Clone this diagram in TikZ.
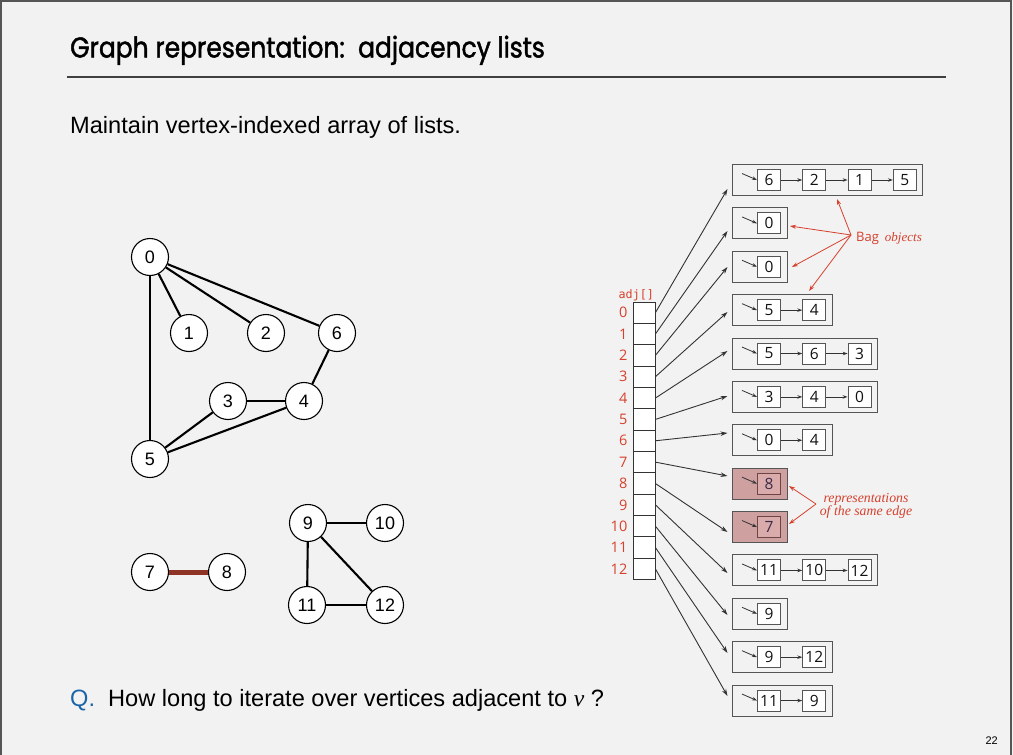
\documentclass[tikz,border=0pt]{standalone}
\usepackage{fontspec}
\setmainfont{Liberation Sans}
\newfontfamily\titlefont[FakeStretch=0.87,FakeBold=1.6]{Poppins}
\newfontfamily\lucfont{Open Sans}
\newfontfamily\monofont{DejaVu Sans Mono}
\newfontfamily\seriffont{Liberation Serif}
\usetikzlibrary{arrows.meta}
\definecolor{bgc}{HTML}{F2F2F2}
\definecolor{framec}{HTML}{555555}
\definecolor{redc}{HTML}{D6402D}
\definecolor{arrc}{HTML}{333333}
\definecolor{boxd}{HTML}{555555}
\definecolor{txtc}{HTML}{111111}
\definecolor{shA}{HTML}{CFA0A0}
\definecolor{shB}{HTML}{D9ABAB}
\definecolor{shD}{HTML}{6E4444}
\definecolor{shT}{HTML}{3A2A4A}
\definecolor{edge78}{HTML}{8E3426}
\definecolor{qblue}{HTML}{1A64A8}
\begin{document}
\begin{tikzpicture}[x=1pt,y=-1pt,
  gv/.style={circle,draw=black,line width=1.1pt,fill=white,minimum size=37pt,inner sep=0pt,font=\fontsize{18}{20}\selectfont},
  ge/.style={line width=2.1pt,black},
  cell/.style={draw=black!80,fill=white,line width=0.8pt,minimum width=22pt,minimum height=21.35pt,inner sep=0pt},
  idx/.style={text=redc,font=\lucfont\fontsize{14.5}{16}\selectfont,anchor=east,inner sep=0pt},
  ptr/.style={draw=arrc,line width=0.9pt,-{Stealth[length=7pt,width=4.5pt]}},
  link/.style={draw=arrc,line width=0.8pt,-{Stealth[length=5pt,width=3.5pt]}},
  bagbox/.style={draw=boxd,line width=1pt,minimum height=31pt,inner sep=0pt,anchor=west},
  sq/.style={line width=1pt,minimum width=23pt,minimum height=21pt,inner sep=0pt,anchor=west,font=\lucfont\fontsize{15.5}{17}\selectfont},
  ann/.style={draw=redc,line width=0.8pt,-{Stealth[length=6pt,width=4pt]}},
]
\useasboundingbox (0,0) rectangle (1013,755);
\fill[bgc] (0,0) rectangle (1013,755);
\draw[framec,line width=1.5pt] (1,760) -- (1,1) -- (1011,1) -- (1011,760);

% title
\node[anchor=base west,inner sep=0pt,font=\titlefont\fontsize{28.7}{32}\selectfont] (title) at (70,57.5) {Graph representation:\ \ adjacency lists};
\coordinate (rl) at (67,77);
\coordinate (rr) at (946,77);
\draw[line width=1.2pt,black!75] (rl) -- (rr);

\node[anchor=base west,inner sep=0pt,font=\fontsize{23.6}{28}\selectfont] (sub) at (70,133) {Maintain vertex-indexed array of lists.};

% graph
\node[gv] (n0) at (150,257) {0};
\node[gv] (n1) at (189,333) {1};
\node[gv] (n2) at (266,333) {2};
\node[gv] (n6) at (337,333) {6};
\node[gv] (n3) at (228,401) {3};
\node[gv] (n4) at (304,401) {4};
\node[gv] (n5) at (150,459) {5};
\node[gv] (n7) at (150,572) {7};
\node[gv] (n8) at (227,572) {8};
\node[gv] (n9) at (308,523) {9};
\node[gv] (n10) at (385,523) {10};
\node[gv] (n11) at (307,605) {11};
\node[gv] (n12) at (385,605) {12};
\foreach \a/\b in {0/1,0/2,0/6,0/5,6/4,3/4,3/5,4/5,9/10,9/11,9/12,11/12}
  \draw[ge] (n\a) -- (n\b);
\draw[line width=5pt,edge78] (n7) -- (n8);

% adj array
\node[anchor=base west,inner sep=0pt,text=redc,font=\monofont\fontsize{11.7}{14}\selectfont] (adj) at (618.5,298) {adj[]};
\foreach \i/\ty in {0/189,1/231,2/267,3/312,4/351,5/396,6/433,7/476,8/532,9/573,10/615,11/653,12/696} {
  \node[cell] (c\i) at (644,{302+21.35*(\i+0.5)}) {};
  \node[idx] (l\i) at (627.5,{302+21.35*(\i+0.5)}) {\i};
  \coordinate (t\i) at (727.5,\ty);
  \draw[ptr] (c\i.east) -- (t\i);
}

% bag lists
\foreach \r/\n/\bfc/\sfc/\sdc/\tcc/\vals in {
  0/4/bgc/white/boxd/txtc/{6,2,1,5},
  1/1/bgc/white/boxd/txtc/{0},
  2/1/bgc/white/boxd/txtc/{0},
  3/2/bgc/white/boxd/txtc/{5,4},
  4/3/bgc/white/boxd/txtc/{5,6,3},
  5/3/bgc/white/boxd/txtc/{3,4,0},
  6/2/bgc/white/boxd/txtc/{0,4},
  7/1/shA/shB/shD/shT/{8},
  8/1/shA/shB/shD/shT/{7},
  9/3/bgc/white/boxd/txtc/{11,10,12},
  10/1/bgc/white/boxd/txtc/{9},
  11/2/bgc/white/boxd/txtc/{9,12},
  12/2/bgc/white/boxd/txtc/{11,9}} {
  \pgfmathsetmacro\yc{180+43.38*\r}
  \pgfmathsetmacro\bw{25+45.3*(\n-1)+23+6.5}
  \node[bagbox,fill=\bfc,minimum width=\bw pt] (b\r) at (732,\yc) {};
  \foreach \v [count=\k from 0] in \vals {
    \node[sq,draw=\sdc,fill=\sfc,text=\tcc] (s\r-\k) at (757+45.3*\k,\yc) {\v};
  }
  \pgfmathtruncatemacro\m{\n-1}
  \ifnum\m>0
    \foreach \k in {1,...,\m} {
      \pgfmathtruncatemacro\p{\k-1}
      \draw[link] (s\r-\p.east) -- (s\r-\k.west);
    }
  \fi
  \coordinate (h\r) at (742,\yc-6.5);
  \draw[link] (h\r) -- (s\r-0.west);
}

% annotations
\coordinate (bagpt) at (851,235);
\coordinate (bg0) at (837,199);
\coordinate (bg1) at (790,226);
\coordinate (bg2) at (792,267);
\coordinate (bg3) at (809,291);
\foreach \t in {bg0,bg1,bg2,bg3} \draw[ann] (bagpt) -- (\t);
\node[anchor=base west,inner sep=0pt,text=redc,font=\fontsize{13}{15}\selectfont] (bagtxt) at (856,241) {{\lucfont Bag}\hspace{6pt}{\seriffont\itshape objects}};

\coordinate (reppt) at (816,504);
\coordinate (rp0) at (789,486);
\coordinate (rp1) at (789,524);
\draw[ann] (reppt) -- (rp0);
\draw[ann] (reppt) -- (rp1);
\node[align=center,inner sep=0pt,text=redc,font=\seriffont\itshape\fontsize{13.8}{11.5}\selectfont] (reptxt) at (866,506) {representations\\of the same edge};

% question
\node[anchor=base west,inner sep=0pt,text=qblue,font=\fontsize{23.6}{28}\selectfont] (q) at (70,706) {Q.};
\node[anchor=base west,inner sep=0pt,font=\fontsize{23.6}{28}\selectfont] (qt) at (108,706) {How long to iterate over vertices adjacent to {\seriffont\itshape v} ?};

\node[anchor=base east,inner sep=0pt,font=\fontsize{11}{13}\selectfont] (pg) at (998,744) {22};
\end{tikzpicture}
\end{document}
